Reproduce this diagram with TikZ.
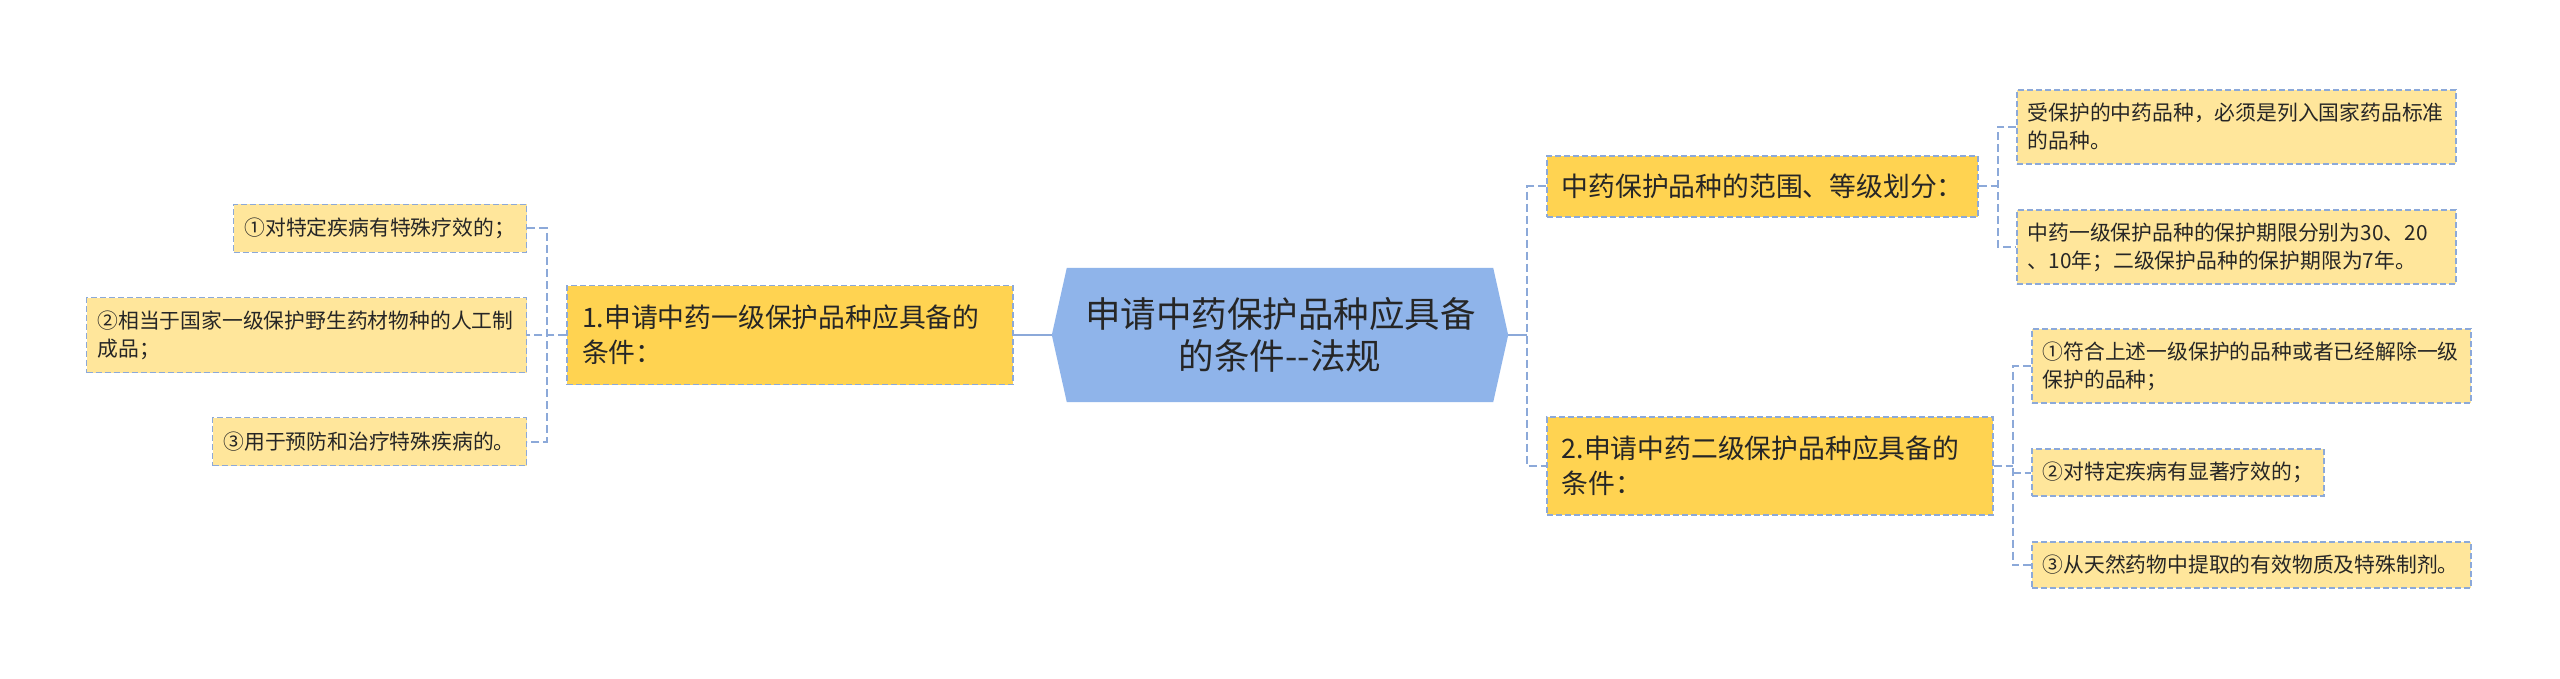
\documentclass[tikz,border=0pt]{standalone}
\usepackage{fontspec}
\newfontfamily\cjkfont{Noto Sans CJK SC}
\usetikzlibrary{positioning,calc,backgrounds}
\definecolor{RootBlue}{HTML}{8FB4EA}
\definecolor{MainGold}{HTML}{FFD351}
\definecolor{SubYellow}{HTML}{FFE69B}
\definecolor{LineBlue}{HTML}{8CA9D9}
\definecolor{InkGray}{HTML}{262626}
\tikzset{
  rootbox/.style={rectangle, text width=390pt, inner xsep=18pt, inner ysep=0pt, minimum height=134pt, align=center, text=InkGray, font=\cjkfont\fontsize{35.5}{42}\selectfont},
  mainbox/.style={rectangle, draw=LineBlue, line width=1.5pt, dash pattern=on 6pt off 3pt, fill=MainGold, text width=#1, inner xsep=15pt, inner ysep=0pt, align=left, text=InkGray, font=\cjkfont\fontsize{26.8}{35}\selectfont},
  subbox/.style={rectangle, draw=LineBlue, line width=1.5pt, dash pattern=on 6pt off 3pt, fill=SubYellow, text width=#1, inner xsep=11pt, inner ysep=0pt, align=left, text=InkGray, font=\cjkfont\fontsize{20.8}{28}\selectfont},
  link/.style={draw=LineBlue, line width=2.5pt},
  dlink/.style={draw=LineBlue, line width=2pt, dash pattern=on 8pt off 4pt}
}
\begin{document}
\begin{tikzpicture}[x=1pt, y=-1pt]
\useasboundingbox (0,0) rectangle (2560,679);
% root
\node[rootbox] (ctr) at (1280,335) {申请中药保护品种应具备\\的条件-{}-法规};
\coordinate (ctrL) at ($(ctr.west)+(-15,0)$);
\coordinate (ctrR) at ($(ctr.east)+(15,0)$);
\begin{scope}[on background layer]
\fill[white] (0,0) rectangle (2560,679);
\fill[RootBlue] (ctrL) -- (ctr.north west) -- (ctr.north east) -- (ctrR) -- (ctr.south east) -- (ctr.south west) -- cycle;
\end{scope}
% left branch
\node[mainbox=416pt, minimum height=99pt, left=53pt of ctr] (L1) {1.申请中药一级保护品种应具备的\\条件：};
\node[subbox=418pt, minimum height=75pt, left=39pt of L1] (lc2) {②相当于国家一级保护野生药材物种的人工制\\成品；};
\node[subbox=271pt, minimum height=48pt, anchor=east] (lc1) at ([yshift=106.5pt]lc2.east) {①对特定疾病有特殊疗效的；};
\node[subbox=292pt, minimum height=48pt, anchor=east] (lc3) at ([yshift=-106.5pt]lc2.east) {③用于预防和治疗特殊疾病的。};
% right branch
\node[mainbox=401pt, minimum height=61pt, anchor=west] (R1) at (1546,186.5) {中药保护品种的范围、等级划分：};
\node[mainbox=416pt, minimum height=98pt, anchor=west] (R2) at (1546,466) {2.申请中药二级保护品种应具备的\\条件：};
\node[subbox=417pt, minimum height=74pt, anchor=west] (r1a) at (2016,127) {受保护的中药品种，必须是列入国家药品标准\\的品种。};
\node[subbox=417pt, minimum height=74pt, anchor=west] (r1b) at (2016,247) {中药一级保护品种的保护期限分别为30、20\\、10年；二级保护品种的保护期限为7年。};
\node[subbox=417pt, minimum height=74pt, anchor=west] (r2a) at (2031,366) {①符合上述一级保护的品种或者已经解除一级\\保护的品种；};
\node[subbox=270pt, minimum height=47pt, anchor=west] (r2b) at (2031,472.5) {②对特定疾病有显著疗效的；};
\node[subbox=417pt, minimum height=46pt, anchor=west] (r2c) at (2031,565) {③从天然药物中提取的有效物质及特殊制剂。};
% connectors
\draw[link] (ctrL) -- (L1.east);
\coordinate (lj) at ($(lc2.east)!0.5!(L1.west)$);
\draw[dlink] (L1.west) -- (lc2.east);
\draw[dlink] (lc1.east) -| (lj) |- (lc3.east);
\coordinate (rj) at ($(ctrR)+(19,0)$);
\draw[link] (ctrR) -- (rj);
\draw[dlink] (R1.west) -| (rj) |- (R2.west);
\coordinate (r1j) at ($(R1.east)+(19,0)$);
\draw[dlink] (R1.east) -- (r1j);
\draw[dlink] (r1a.west) -| (r1j) |- (r1b.west);
\coordinate (r2j) at ($(R2.east)+(19,0)$);
\draw[dlink] (R2.east) -- (r2j);
\draw[dlink] (r2a.west) -| (r2j) |- (r2c.west);
\draw[dlink] (r2j |- r2b.west) -- (r2b.west);
\end{tikzpicture}
\end{document}
